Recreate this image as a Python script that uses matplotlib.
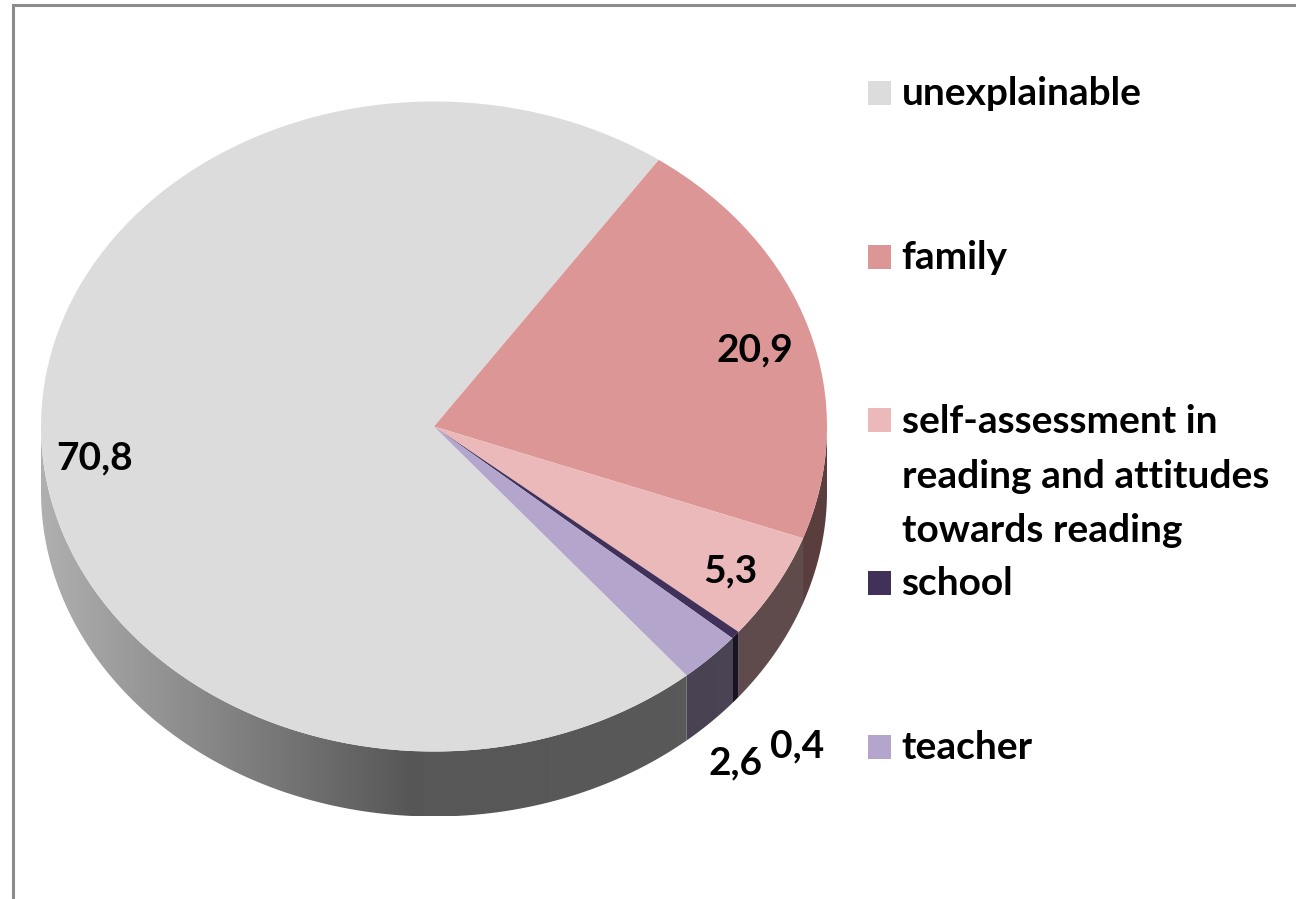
import numpy as np
import matplotlib
matplotlib.use("Agg")
import matplotlib.pyplot as plt
from matplotlib.lines import Line2D
from matplotlib.patches import Polygon, Rectangle

categories = ["unexplainable", "family", "self-assessment in\nreading and attitudes\ntowards reading", "school", "teacher"]
shares = [70.8, 20.9, 5.3, 0.4, 2.6]
share_labels = ["70,8", "20,9", "5,3", "0,4", "2,6"]
colours = ["#dcdcdc", "#dd9696", "#ebb9b9", "#40305a", "#b4a5cd"]

W, H = 1296, 899
CX, CY, RX, RY = 434, 426.5, 393, 325
DEPTH = 65 / RY
START = -50.0

plt.rcParams["font.family"] = ["Lato", "DejaVu Sans"]
plt.rcParams["font.weight"] = "bold"

fig = plt.figure(figsize=(W / 100, H / 100), dpi=100, facecolor="white")
ax = fig.add_axes([(CX - RX) / W, 1 - (CY + RY) / H, 2 * RX / W, 2 * RY / H])

# Top face of the disc
wedges, _ = ax.pie(shares, colors=colours, startangle=START, counterclock=False, radius=1,
                   wedgeprops={"linewidth": 0, "zorder": 5})
ax.axis("off")


def wall_shade(x):
    """Brightness of the disc's rim: light at the far left, flat from the middle on."""
    return np.interp(x, [-1.0, -0.06, 1.0], [0.80, 0.395, 0.41])


# Rim of the disc: a horizontal gradient clipped to the visible arc of each slice
xs = np.linspace(-1, 1, 800)
shade = wall_shade(xs)[None, :, None]
edges = START - np.cumsum([0] + shares) * 3.6
for colour, a0, a1 in zip(colours, edges[:-1], edges[1:]):
    rgb = np.array(matplotlib.colors.to_rgb(colour))
    for turn in (0, 360, 720):
        t_hi = min(a0 + turn, 360)
        t_lo = max(a1 + turn, 180)
        if t_hi <= t_lo:
            continue
        theta = np.radians(np.linspace(t_lo, t_hi, 200))
        top = np.column_stack([np.cos(theta), np.sin(theta)])
        bottom = (top - [0, DEPTH])[::-1]
        outline = Polygon(np.vstack([top, bottom]), closed=True, transform=ax.transData)
        image = ax.imshow(np.clip(rgb[None, None, :] * shade, 0, 1), aspect="auto", zorder=1,
                          extent=(-1, 1, -1 - DEPTH, 0), interpolation="bilinear")
        image.set_clip_box(fig.bbox)
        image.set_clip_path(outline)

ax.set_aspect("auto")
ax.set_xlim(-1, 1)
ax.set_ylim(-1, 1)

# Outer frame, running off the right and bottom edges
fig.add_artist(Line2D([13 / W, 13 / W, 1], [0, 1 - 5 / H, 1 - 5 / H],
                      color="#8c8c8c", linewidth=2.2, solid_joinstyle="miter"))


def put_text(x, y, s, size, **kw):
    fig.text(x / W, 1 - y / H, s, fontsize=size, color="black", **kw)


# Value labels
label_spots = [(95, 469), (755, 361), (730, 582), (797, 757), (735, 774)]
for (x, y), s in zip(label_spots, share_labels):
    put_text(x, y, s, 28, ha="center", va="baseline")

# Legend keys and entries
key_rows = [93, 256.5, 420, 583, 747]
text_rows = [105, 269, 542, 595, 759]
for row, trow, colour, name in zip(key_rows, text_rows, colours, categories):
    fig.add_artist(Rectangle((868.5 / W, 1 - (row + 12) / H), 23 / W, 24 / H,
                             transform=fig.transFigure, facecolor=colour, edgecolor="none"))
    put_text(901.5, trow, name, 28, ha="left", va="baseline", linespacing=1.67)

fig.savefig("out.png", dpi=100)
